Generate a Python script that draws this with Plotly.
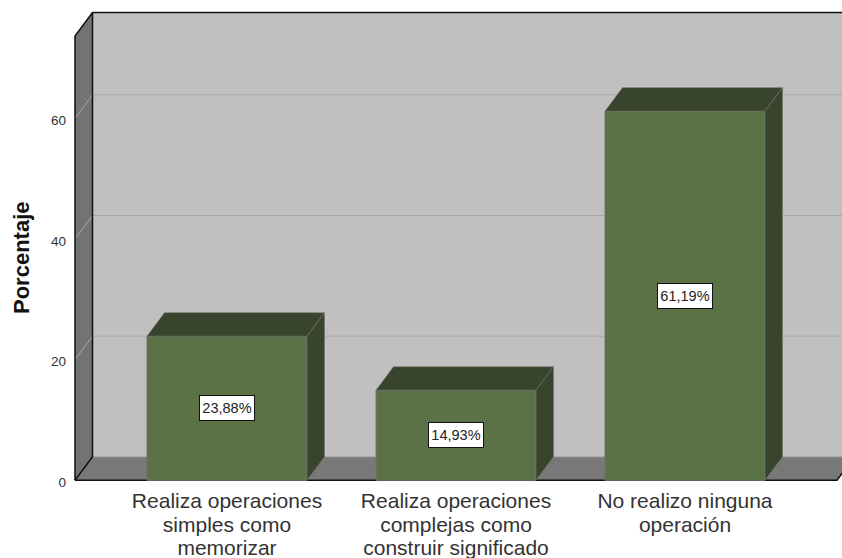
import plotly.graph_objects as go

CATEGORIES = [
    "Realiza operaciones<br>simples como<br>memorizar",
    "Realiza operaciones<br>complejas como<br>construir significado",
    "No realizo ninguna<br>operación",
]
VALUES = [23.88, 14.93, 61.19]
VALUE_LABELS = ["23,88%", "14,93%", "61,19%"]
Y_TICKS = [0, 20, 40, 60]

WIDTH, HEIGHT = 842, 558
PX_PER_CAT = 229.0
PX_PER_PCT = 6.033
X0_PX, Y0_PX = 227.0, 480.3

BAR_W = 160 / PX_PER_CAT
DEPTH_X = 17.5 / PX_PER_CAT
DEPTH_Y = 23.5 / PX_PER_PCT
ROOM_LEFT = (75 - X0_PX) / PX_PER_CAT
ROOM_RIGHT = (837 - X0_PX) / PX_PER_CAT
ROOM_TOP = (Y0_PX - 36) / PX_PER_PCT

BAR_FRONT = "#5b7146"
BAR_DARK = "#38452c"
BAR_EDGE = "#6e7468"
WALL_BACK = "#c0c0c0"
WALL_SIDE = "#737373"
FLOOR = "#787878"
GRID = "#a8a8a8"
TEXT = "#333333"
FONT = "Liberation Sans, Arial, sans-serif"


def _poly(points, fill=None, line=None, width=1):
    path = "M " + " L ".join(f"{x},{y}" for x, y in points)
    if fill:
        path += " Z"
    return dict(
        type="path", path=path, xref="x", yref="y", layer="below",
        fillcolor=fill or "rgba(0,0,0,0)",
        line=dict(color=line or "rgba(0,0,0,0)", width=width),
    )


def _wide_label(text):
    # glyphs are wider than the line spacing the tick font would give
    return "<br>".join(f'<span style="font-size:21px">{part}</span>' for part in text.split("<br>"))


back_l, back_r = ROOM_LEFT + DEPTH_X, ROOM_RIGHT + DEPTH_X
back_top = ROOM_TOP + DEPTH_Y

shapes = [
    _poly([(back_l, DEPTH_Y), (back_r, DEPTH_Y), (back_r, back_top), (back_l, back_top)], WALL_BACK),
    _poly([(ROOM_LEFT, 0), (back_l, DEPTH_Y), (back_l, back_top), (ROOM_LEFT, ROOM_TOP)], WALL_SIDE),
    _poly([(ROOM_LEFT, 0), (back_l, DEPTH_Y), (back_r, DEPTH_Y), (ROOM_RIGHT, 0)], FLOOR),
]
# gridlines run across the side wall and the back wall
for tick in Y_TICKS[1:]:
    shapes.append(_poly([(ROOM_LEFT, tick), (back_l, tick + DEPTH_Y), (back_r, tick + DEPTH_Y)], None, GRID))
shapes += [
    _poly([(back_l, DEPTH_Y), (back_r, DEPTH_Y)], None, "#a5a5a5"),
    _poly([(ROOM_LEFT, 0), (ROOM_LEFT, ROOM_TOP), (back_l, back_top), (back_r, back_top)], None, "#111111", 1.5),
    _poly([(back_l, back_top), (back_l, DEPTH_Y), (ROOM_LEFT, 0)], None, "#111111", 1.5),
    _poly([(ROOM_LEFT, 0), (ROOM_RIGHT, 0), (back_r, DEPTH_Y)], None, "#111111", 1.5),
]

xs = list(range(len(VALUES)))

fig = go.Figure()
fig.add_trace(go.Bar(
    x=xs, y=VALUES, width=BAR_W,
    marker=dict(color=BAR_FRONT, line=dict(color=BAR_EDGE, width=1)),
    showlegend=False,
))

# top and side faces of each bar, offset from its value
for x, val in zip(xs, VALUES):
    left, right = x - BAR_W / 2, x + BAR_W / 2
    top_x = [left, left + DEPTH_X, right + DEPTH_X, right, left]
    top_y = [val, val + DEPTH_Y, val + DEPTH_Y, val, val]
    side_x = [right, right + DEPTH_X, right + DEPTH_X, right, right]
    side_y = [val, val + DEPTH_Y, DEPTH_Y, 0, val]
    for fx, fy in ((top_x, top_y), (side_x, side_y)):
        fig.add_trace(go.Scatter(
            x=fx, y=fy, mode="lines", fill="toself", fillcolor=BAR_DARK,
            line=dict(color=BAR_EDGE, width=0.6), showlegend=False, hoverinfo="skip",
        ))

for x, val, label in zip(xs, VALUES, VALUE_LABELS):
    fig.add_annotation(
        x=x, y=val / 2, text=label, showarrow=False,
        font=dict(family=FONT, size=14.5, color="#222222"),
        width=54, height=24, borderpad=0,
        bgcolor="#ffffff", bordercolor="#111111", borderwidth=1,
    )

fig.add_annotation(
    text="<b>Porcentaje</b>", textangle=-90, showarrow=False,
    xref="paper", yref="paper", x=21 / WIDTH, y=1 - 258 / HEIGHT,
    xanchor="center", yanchor="middle",
    font=dict(family=FONT, size=22, color="#111111"),
)

fig.update_layout(
    width=WIDTH, height=HEIGHT,
    margin=dict(l=0, r=0, t=0, b=0),
    paper_bgcolor="#ffffff", plot_bgcolor="#ffffff",
    font=dict(family=FONT, color=TEXT),
    shapes=shapes,
    showlegend=False,
    xaxis=dict(
        range=[-X0_PX / PX_PER_CAT, (WIDTH - X0_PX) / PX_PER_CAT],
        tickmode="array", tickvals=xs, ticktext=[_wide_label(c) for c in CATEGORIES], tickangle=0,
        tickfont=dict(size=18, color=TEXT), showgrid=False, zeroline=False,
        showline=False, ticks="", ticklabelstandoff=9, anchor="free",
        position=(HEIGHT - Y0_PX) / HEIGHT,
    ),
    yaxis=dict(
        range=[Y0_PX / PX_PER_PCT - HEIGHT / PX_PER_PCT, Y0_PX / PX_PER_PCT],
        tickmode="array", tickvals=Y_TICKS, tickfont=dict(size=13.5, color=TEXT),
        showgrid=False, zeroline=False, showline=False, ticks="",
        ticklabelstandoff=9, ticklabelshift=2,
        anchor="free", position=75 / WIDTH,
    ),
)

fig.write_html("out.html", config={"displayModeBar": False},
               post_script="document.body.style.margin='0';")
